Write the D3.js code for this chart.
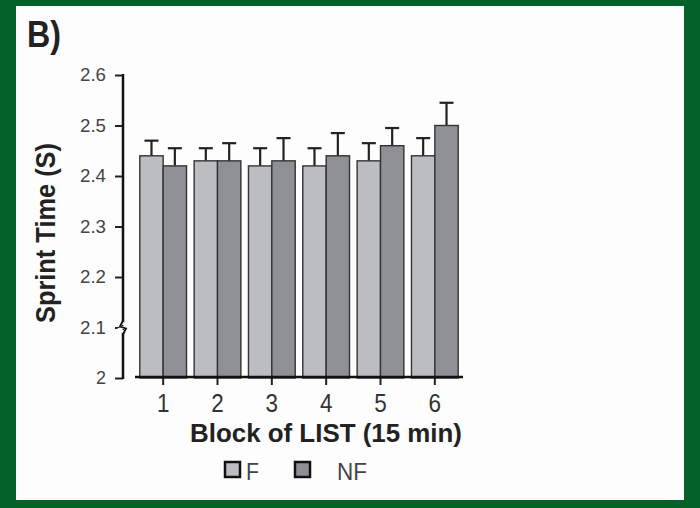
<script src="https://d3js.org/d3.v7.min.js"></script>
<html>
<head>
<style>
  body { margin: 0; background: #046228; }
  text { font-family: "Liberation Sans", Arial, sans-serif; }
</style>
</head>
<body>
<div id="myPlot"></div>
</body>
<script>
    const width = 700;
    const height = 508;

    // data
    const blocks = ["1", "2", "3", "4", "5", "6"];
    const series = ["F", "NF"];
    const fMean = [2.44, 2.43, 2.42, 2.42, 2.43, 2.44];
    const fErr = [0.03, 0.025, 0.035, 0.035, 0.035, 0.035];
    const nfMean = [2.42, 2.43, 2.43, 2.44, 2.46, 2.50];
    const nfErr = [0.035, 0.035, 0.045, 0.045, 0.035, 0.045];
    const yTicks = [2, 2.1, 2.2, 2.3, 2.4, 2.5, 2.6];

    const colors = { F: "#bcbdc0", NF: "#8f9094" };

    const svg = d3.select("#myPlot").append("svg")
        .attr("width", width)
        .attr("height", height);

    // green frame + white panel
    svg.append("rect").attr("width", width).attr("height", height).attr("fill", "#046228");
    svg.append("rect")
        .attr("x", 16).attr("y", 6)
        .attr("width", 668).attr("height", 494)
        .attr("fill", "#fdfdfd");

    svg.append("text")
        .attr("x", 27).attr("y", 47)
        .attr("font-size", 36).attr("font-weight", "bold")
        .attr("textLength", 34).attr("lengthAdjust", "spacingAndGlyphs")
        .attr("fill", "#222")
        .text("B)");

    const y = d3.scaleLinear().domain([2, 2.6]).range([378, 75]);
    const x = d3.scaleBand().domain(blocks).range([136, 462])
        .paddingInner(0.14).paddingOuter(0.07);
    const xs = d3.scaleBand().domain(series).range([0, x.bandwidth()]);

    const rows = blocks.map((b, i) => ({
        block: b,
        vals: [
            { s: "F", v: fMean[i], e: fErr[i] },
            { s: "NF", v: nfMean[i], e: nfErr[i] }
        ]
    }));

    // y axis
    const yAxis = svg.append("g")
        .attr("transform", "translate(123,0)")
        .call(d3.axisLeft(y).tickValues(yTicks).tickSize(8).tickPadding(9)
            .tickFormat(d => d === 2 ? "2" : d3.format(".1f")(d)));
    yAxis.select(".domain").remove();
    yAxis.selectAll(".tick line").attr("stroke", "#222").attr("stroke-width", 2);
    yAxis.selectAll(".tick text").attr("font-size", 18).attr("fill", "#444")
        .attr("textLength", d => d === 2 ? 10 : 26).attr("lengthAdjust", "spacingAndGlyphs");
    svg.append("line")
        .attr("x1", 123).attr("x2", 123)
        .attr("y1", y(2.6) - 1).attr("y2", y(2) + 1)
        .attr("stroke", "#111").attr("stroke-width", 2.5);
    // axis break mark
    svg.append("path")
        .attr("d", `M119,${y(2.1) - 6} L127,${y(2.1) - 2} L119,${y(2.1) + 2} L127,${y(2.1) + 6}`)
        .attr("fill", "none").attr("stroke", "#fdfdfd").attr("stroke-width", 3);
    svg.append("path")
        .attr("d", `M123,${y(2.1) - 7} L120,${y(2.1) - 1} L126,${y(2.1) + 1} L123,${y(2.1) + 7}`)
        .attr("fill", "none").attr("stroke", "#111").attr("stroke-width", 1.8);

    svg.append("text")
        .attr("transform", "translate(55,233) rotate(-90)")
        .attr("text-anchor", "middle")
        .attr("font-size", 27).attr("font-weight", "bold")
        .attr("textLength", 180).attr("lengthAdjust", "spacingAndGlyphs")
        .attr("fill", "#222")
        .text("Sprint Time (S)");

    // bars
    const g = svg.append("g").selectAll("g").data(rows).join("g")
        .attr("transform", d => `translate(${x(d.block)},0)`);

    g.selectAll("line.err").data(d => d.vals).join("line")
        .attr("class", "err")
        .attr("x1", d => xs(d.s) + xs.bandwidth() / 2)
        .attr("x2", d => xs(d.s) + xs.bandwidth() / 2)
        .attr("y1", d => y(d.v))
        .attr("y2", d => y(d.v + d.e))
        .attr("stroke", "#222").attr("stroke-width", 2.2);
    g.selectAll("line.cap").data(d => d.vals).join("line")
        .attr("class", "cap")
        .attr("x1", d => xs(d.s) + xs.bandwidth() / 2 - 7)
        .attr("x2", d => xs(d.s) + xs.bandwidth() / 2 + 7)
        .attr("y1", d => y(d.v + d.e))
        .attr("y2", d => y(d.v + d.e))
        .attr("stroke", "#222").attr("stroke-width", 2.2);

    g.selectAll("rect").data(d => d.vals).join("rect")
        .attr("x", d => xs(d.s))
        .attr("y", d => y(d.v))
        .attr("width", xs.bandwidth())
        .attr("height", d => y(2) - y(d.v))
        .attr("fill", d => colors[d.s])
        .attr("stroke", "#333").attr("stroke-width", 1.4);

    // x axis
    const xAxis = svg.append("g")
        .attr("transform", "translate(0,377)")
        .call(d3.axisBottom(x).tickSize(8).tickPadding(9).tickSizeOuter(0));
    xAxis.select(".domain").remove();
    xAxis.selectAll(".tick line").attr("stroke", "#222").attr("stroke-width", 2);
    xAxis.selectAll(".tick text").attr("font-size", 26).attr("fill", "#333")
        .attr("textLength", 12.5).attr("lengthAdjust", "spacingAndGlyphs");
    svg.append("line")
        .attr("x1", 135).attr("x2", 463)
        .attr("y1", 377).attr("y2", 377)
        .attr("stroke", "#111").attr("stroke-width", 2.5);

    svg.append("text")
        .attr("x", 190).attr("y", 442)
        .attr("font-size", 26.5).attr("font-weight", "bold")
        .attr("textLength", 272).attr("lengthAdjust", "spacingAndGlyphs")
        .attr("fill", "#222")
        .text("Block of LIST (15 min)");

    // legend
    const legend = [
        { s: "F", x: 225, tx: 246 },
        { s: "NF", x: 295, tx: 337 }
    ];
    const lg = svg.append("g").selectAll("g").data(legend).join("g");
    lg.append("rect")
        .attr("x", d => d.x).attr("y", 462)
        .attr("width", 15).attr("height", 15)
        .attr("fill", d => colors[d.s])
        .attr("stroke", "#111").attr("stroke-width", 2.5);
    lg.append("text")
        .attr("x", d => d.tx).attr("y", 480)
        .attr("font-size", 23).attr("fill", "#444")
        .attr("textLength", d => d.s === "F" ? 13 : 30).attr("lengthAdjust", "spacingAndGlyphs")
        .text(d => d.s);
</script>
</html>
